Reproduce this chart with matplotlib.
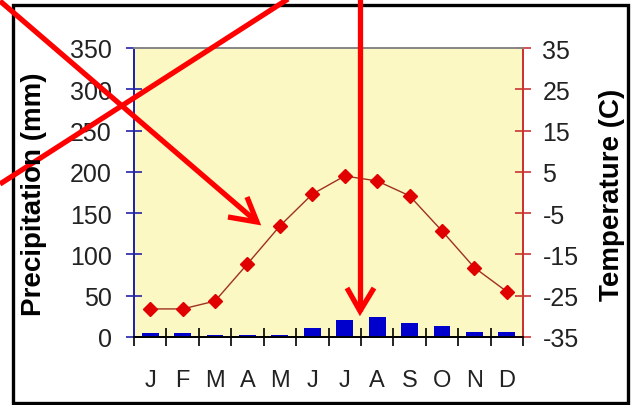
import numpy as np
import matplotlib
matplotlib.use('Agg')
from matplotlib import pyplot as plt
from matplotlib.lines import Line2D
from matplotlib.patches import Rectangle

# Climate data.
months = ['J', 'F', 'M', 'A', 'M', 'J', 'J', 'A', 'S', 'O', 'N', 'D']
precip = [5, 5, 2, 2, 2, 11, 21, 24, 17, 13, 6, 6]
temps = [-28.2, -28.2, -26.3, -17.3, -8.1, -0.4, 4.0, 2.8, -0.8, -9.3, -18.2, -24.0]
precip_ticks = [0, 50, 100, 150, 200, 250, 300, 350]
temp_ticks = [-35, -25, -15, -5, 5, 15, 25, 35]

plt.rcParams['font.family'] = ['Liberation Sans', 'DejaVu Sans']
plt.rcParams['axes.unicode_minus'] = False

W, H = 637, 406
fig = plt.figure(figsize=(W / 100, H / 100), dpi=100)
ax = fig.add_axes([134 / W, 1 - 338 / H, (523 - 134) / W, (338 - 49) / H])
ax.set_facecolor('#FBF8C4')

x = np.arange(len(months))
ax.bar(x, precip, width=0.52, color='#0000CC', zorder=3)
ax.set_xlim(-0.5, len(months) - 0.5)
ax.set_ylim(0, 350)
ax.set_yticks(precip_ticks)

# Month labels in the middle, ticks at the boundaries.
ax.set_xticks(np.arange(-0.5, len(months), 1.0))
ax.set_xticklabels([])
ax.set_xticks(x, minor=True)
ax.set_xticklabels(months, minor=True)
ax.tick_params(axis='x', which='major', direction='inout', length=13, width=1.2, color='black')
ax.tick_params(axis='x', which='minor', length=0, pad=23, labelsize=17, labelcolor='#222222')
ax.tick_params(axis='y', direction='inout', length=12, width=1.2, color='#2222AA',
               labelsize=18, labelcolor='#222222', pad=10)

# Temperature on the right axis.
ax2 = ax.twinx()
ax2.plot(x, temps, c='#A03020', lw=1.0, marker='D', ms=7.5, mfc='#E00000', mec='#E00000', zorder=4)
ax2.set_ylim(-35, 35)
ax2.set_yticks(temp_ticks)
ax2.tick_params(axis='y', direction='inout', length=12, width=1.2, color='#CC3333',
                labelsize=18, labelcolor='#222222', pad=8)

for a in (ax, ax2):
    a.spines['left'].set_color('#2222AA')
    a.spines['right'].set_color('#CC3333')
    a.spines['top'].set_color('#888888')
    a.spines['bottom'].set_color('black')
    for s in a.spines.values():
        s.set_linewidth(1.3)

# Axis titles.
fig.text(34 / W, 1 - 194 / H, 'Precipitation (mm)', rotation=90, fontsize=20,
         fontweight='bold', ha='center', va='center')
fig.text(612 / W, 1 - 195 / H, 'Temperature (C)', rotation=90, fontsize=20,
         fontweight='bold', ha='center', va='center')

# Black frame round the chart.
fig.add_artist(Rectangle((13 / W, 1 - 404 / H), (628 - 13) / W, (404 - 6) / H,
                         transform=fig.transFigure, fill=False, ec='black', lw=2.4))

# Red arrows drawn over the chart.
def red_line(xs, ys):
    fig.add_artist(Line2D([v / W for v in xs], [1 - v / H for v in ys],
                          transform=fig.transFigure, color='#FF0000', lw=3.8,
                          solid_capstyle='butt', solid_joinstyle='miter'))

red_line([0, 257], [2, 223])
red_line([247, 257, 228], [198, 223, 218])
red_line([288, 0], [0, 185])
red_line([360, 360], [0, 312])
red_line([347, 360, 374], [289, 312, 289])

plt.savefig('out.png', dpi=100)
